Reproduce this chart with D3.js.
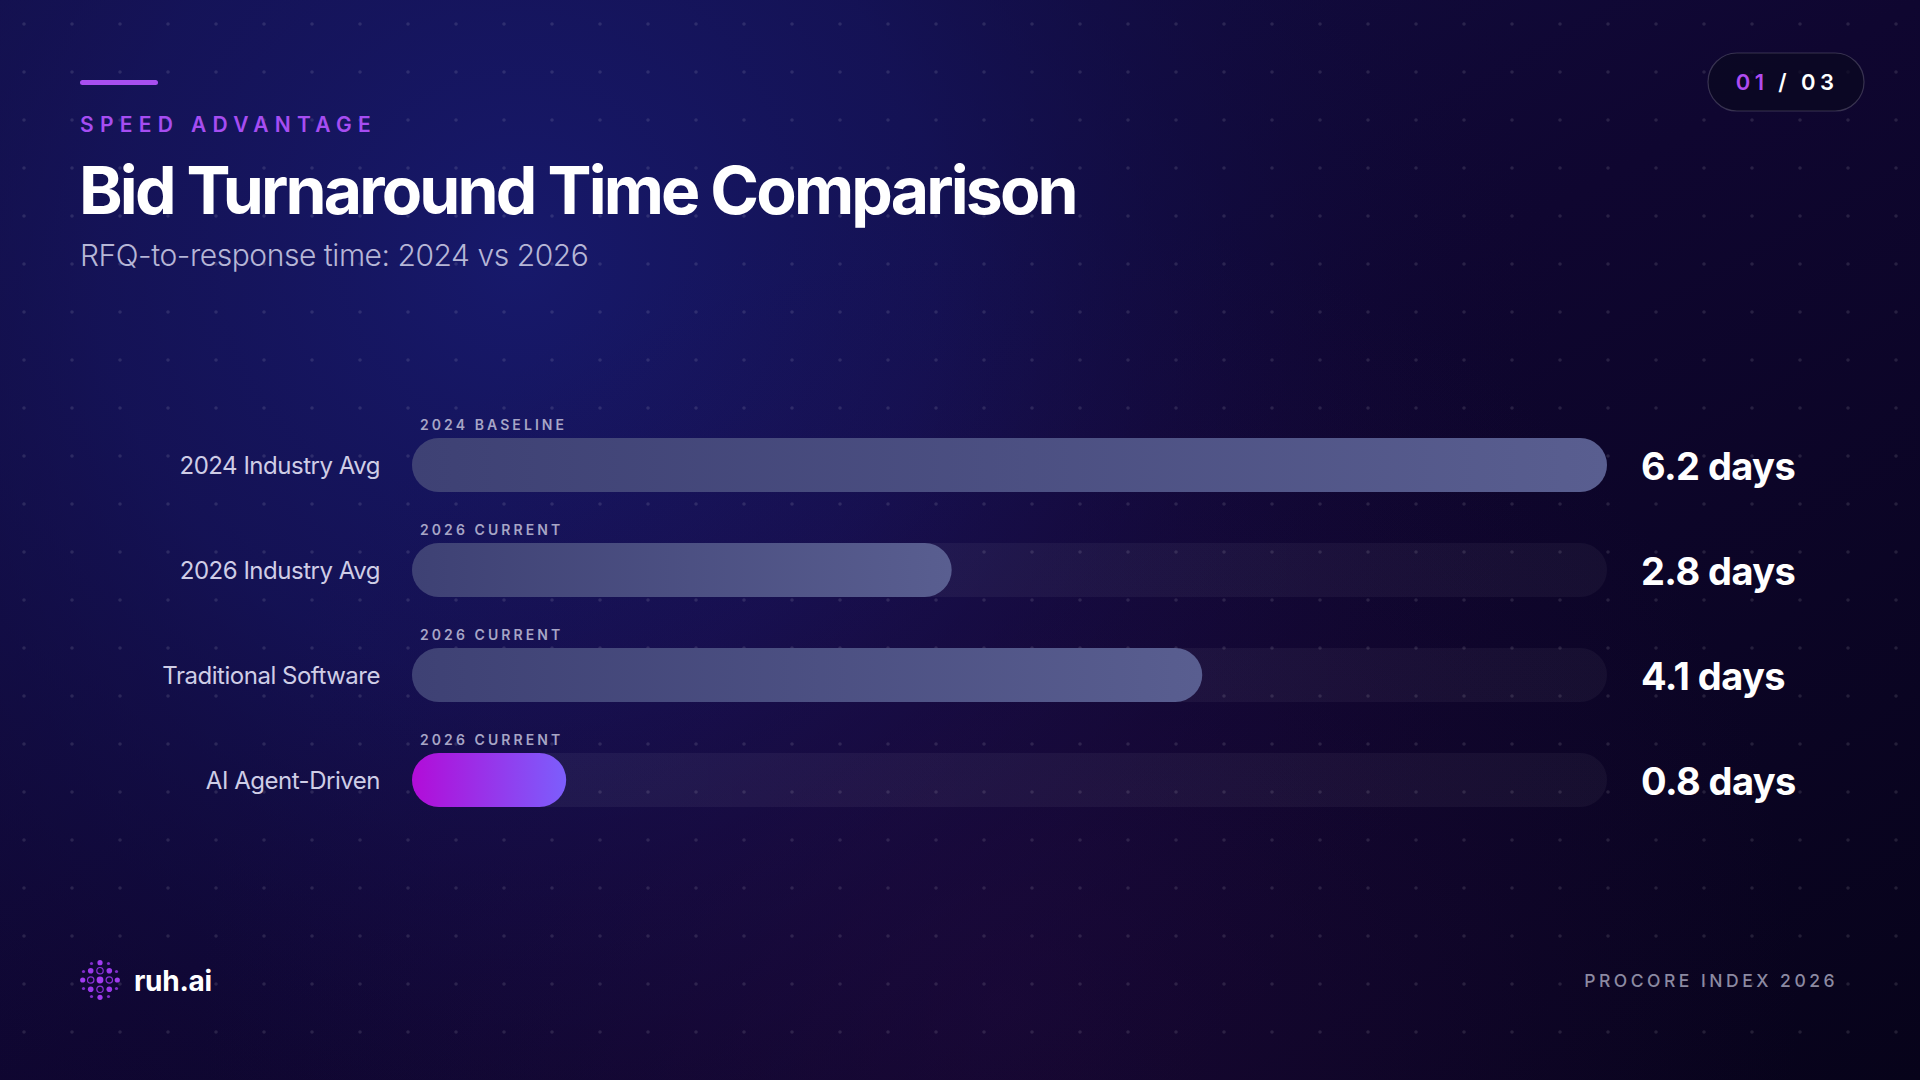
<!DOCTYPE html>
<html>
<head>
<meta charset="utf-8">
<script src="https://cdn.jsdelivr.net/npm/d3@7"></script>
<style>
  html, body { margin: 0; padding: 0; background: #0b0520; }
  svg { display: block; }
  text { font-family: Inter, "Noto Sans", sans-serif; }
</style>
</head>
<body>
<svg id="chart" width="1920" height="1080"></svg>
<script>
// ---- data ----
const categories = ["2024 Industry Avg", "2026 Industry Avg", "Traditional Software", "AI Agent-Driven"];
const values = [6.2, 2.8, 4.1, 0.8];
const periodLabels = ["2024 BASELINE", "2026 CURRENT", "2026 CURRENT", "2026 CURRENT"];
const highlight = [false, false, false, true];
const unit = "days";
const kicker = "SPEED ADVANTAGE";
const title = "Bid Turnaround Time Comparison";
const subtitle = "RFQ-to-response time: 2024 vs 2026";
const pageCurrent = "01";
const pageTotal = "03";
const brand = "ruh.ai";
const source = "PROCORE INDEX 2026";

const W = 1920, H = 1080;
const svg = d3.select("#chart");
const defs = svg.append("defs");

// ---- background ----
const bgLin = defs.append("linearGradient").attr("id", "bgLin")
  .attr("x1", 0).attr("y1", 0).attr("x2", 1).attr("y2", 1);
bgLin.append("stop").attr("offset", 0).attr("stop-color", "#14124f");
bgLin.append("stop").attr("offset", 0.5).attr("stop-color", "#0f0630");
bgLin.append("stop").attr("offset", 1).attr("stop-color", "#07031a");
svg.append("rect").attr("width", W).attr("height", H).attr("fill", "url(#bgLin)");

const glow = defs.append("radialGradient").attr("id", "glow")
  .attr("gradientUnits", "userSpaceOnUse").attr("cx", 520).attr("cy", 260).attr("r", 1050);
glow.append("stop").attr("offset", 0).attr("stop-color", "#17196b").attr("stop-opacity", 1);
glow.append("stop").attr("offset", 0.4).attr("stop-color", "#15145c").attr("stop-opacity", 0.75);
glow.append("stop").attr("offset", 1).attr("stop-color", "#100630").attr("stop-opacity", 0);
svg.append("rect").attr("width", W).attr("height", H).attr("fill", "url(#glow)");

const glow2 = defs.append("radialGradient").attr("id", "glow2")
  .attr("gradientUnits", "userSpaceOnUse").attr("cx", 1000).attr("cy", 1000).attr("r", 800);
glow2.append("stop").attr("offset", 0).attr("stop-color", "#2a0c48").attr("stop-opacity", 0.4);
glow2.append("stop").attr("offset", 1).attr("stop-color", "#2a0c48").attr("stop-opacity", 0);
svg.append("rect").attr("width", W).attr("height", H).attr("fill", "url(#glow2)");

// dot grid
const dotX = d3.range(24, W, 48), dotY = d3.range(24, H, 48);
const dots = svg.append("g").attr("fill", "#ffffff").attr("fill-opacity", 0.11);
dotY.forEach(y => dotX.forEach(x => dots.append("circle").attr("cx", x).attr("cy", y).attr("r", 1.8)));

// ---- header ----
svg.append("rect").attr("x", 80).attr("y", 80).attr("width", 78).attr("height", 5).attr("rx", 2.5)
  .attr("fill", "#a84ff0");
svg.append("text").attr("x", 80).attr("y", 132).text(kicker)
  .attr("fill", "#a64df2").attr("font-size", 21).attr("font-weight", 600).attr("letter-spacing", "0.3em");
svg.append("text").attr("x", 79).attr("y", 214).text(title)
  .attr("fill", "#ffffff").attr("font-size", 66).attr("font-weight", 700).attr("letter-spacing", "-0.043em");
svg.append("text").attr("x", 80).attr("y", 266).text(subtitle)
  .attr("fill", "#b6b6d6").attr("font-size", 30).attr("font-weight", 300).attr("letter-spacing", "-0.015em");

// page pill
svg.append("rect").attr("x", 1708).attr("y", 53).attr("width", 156).attr("height", 58).attr("rx", 29)
  .attr("fill", "#0a0820").attr("fill-opacity", 0.7)
  .attr("stroke", "#ffffff").attr("stroke-opacity", 0.18).attr("stroke-width", 1.2);
const pill = svg.append("text").attr("x", 1787).attr("y", 90).attr("text-anchor", "middle")
  .attr("font-size", 22).attr("font-weight", 600).attr("letter-spacing", "0.2em");
pill.append("tspan").attr("fill", "#b04cf0").text(pageCurrent);
pill.append("tspan").attr("fill", "#ffffff").text(" / " + pageTotal);

// ---- chart ----
const x = d3.scaleLinear().domain([0, d3.max(values)]).range([412, 1607]);
const y = d3.scalePoint().domain(categories).range([465, 780]);
const barH = 54;

const grayGrad = defs.append("linearGradient").attr("id", "grayGrad").attr("x1", 0).attr("x2", 1);
grayGrad.append("stop").attr("offset", 0).attr("stop-color", "#3e4174");
grayGrad.append("stop").attr("offset", 1).attr("stop-color", "#595e90");
const aiGrad = defs.append("linearGradient").attr("id", "aiGrad").attr("x1", 0).attr("x2", 1);
aiGrad.append("stop").attr("offset", 0).attr("stop-color", "#b20cd8");
aiGrad.append("stop").attr("offset", 1).attr("stop-color", "#7c5efc");
const trackGrad = defs.append("linearGradient").attr("id", "trackGrad").attr("x1", 0).attr("x2", 1);
trackGrad.append("stop").attr("offset", 0).attr("stop-color", "#ffffff").attr("stop-opacity", 0.05);
trackGrad.append("stop").attr("offset", 1).attr("stop-color", "#ffffff").attr("stop-opacity", 0.04);

const rows = categories.map((c, i) => ({ c, v: values[i], p: periodLabels[i], h: highlight[i] }));
const g = svg.append("g");

g.selectAll(".track").data(rows).join("rect").attr("class", "track")
  .attr("x", x(0)).attr("y", d => y(d.c) - barH / 2)
  .attr("width", x.range()[1] - x(0)).attr("height", barH).attr("rx", barH / 2)
  .attr("fill", "url(#trackGrad)");

g.selectAll(".bar").data(rows).join("rect").attr("class", "bar")
  .attr("x", x(0)).attr("y", d => y(d.c) - barH / 2)
  .attr("width", d => x(d.v) - x(0)).attr("height", barH).attr("rx", barH / 2)
  .attr("fill", d => d.h ? "url(#aiGrad)" : "url(#grayGrad)");

g.selectAll(".period").data(rows).join("text").attr("class", "period")
  .attr("x", 420).attr("y", d => y(d.c) - 35).text(d => d.p)
  .attr("fill", "#a7a5c6").attr("font-size", 14).attr("font-weight", 600).attr("letter-spacing", "0.22em");

g.selectAll(".cat").data(rows).join("text").attr("class", "cat")
  .attr("x", 380).attr("y", d => y(d.c) + 9).attr("text-anchor", "end").text(d => d.c)
  .attr("fill", "#cfcde6").attr("font-size", 24).attr("font-weight", 400).attr("letter-spacing", "-0.02em");

g.selectAll(".val").data(rows).join("text").attr("class", "val")
  .attr("x", 1641).attr("y", d => y(d.c) + 15).text(d => d3.format(".1f")(d.v) + " " + unit)
  .attr("fill", "#ffffff").attr("font-size", 38).attr("font-weight", 700).attr("letter-spacing", "-0.015em");

// ---- footer ----
const logo = svg.append("g").attr("transform", "translate(100,980)");
logo.append("circle").attr("r", 3.4).attr("fill", "#a43cf0");
[[0,-9.3],[0,9.3],[-9.3,0],[9.3,0]].forEach(([a,b]) =>
  logo.append("circle").attr("cx", a).attr("cy", b).attr("r", 3.2).attr("fill", "none")
    .attr("stroke", "#8a30d8").attr("stroke-width", 1.2));
[[-9.3,-9.3],[9.3,-9.3],[-9.3,9.3],[9.3,9.3]].forEach(([a,b]) =>
  logo.append("circle").attr("cx", a).attr("cy", b).attr("r", 2.8).attr("fill", "#9a38ea"));
[[0,-17.3],[0,17.3],[-17.3,0],[17.3,0]].forEach(([a,b]) =>
  logo.append("circle").attr("cx", a).attr("cy", b).attr("r", 2.6).attr("fill", "#a03cf0"));
[[-8.5,-16.5],[8.5,-16.5],[-8.5,16.5],[8.5,16.5],[-16.5,-8.5],[16.5,-8.5],[-16.5,8.5],[16.5,8.5]].forEach(([a,b]) =>
  logo.append("circle").attr("cx", a).attr("cy", b).attr("r", 1.6).attr("fill", "#7e2cc8"));

svg.append("text").attr("x", 134).attr("y", 991).text(brand)
  .attr("fill", "#ffffff").attr("font-size", 28).attr("font-weight", 700).attr("letter-spacing", "-0.01em");
svg.append("text").attr("x", 1838).attr("y", 987).attr("text-anchor", "end").text(source)
  .attr("fill", "#8c8aa2").attr("font-size", 17.5).attr("font-weight", 500).attr("letter-spacing", "0.2em");
</script>
</body>
</html>
